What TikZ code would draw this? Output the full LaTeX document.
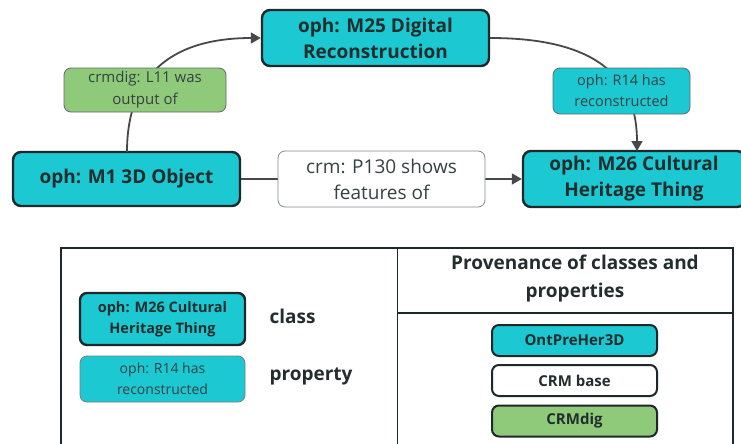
\documentclass[tikz,border=0pt]{standalone}
\usepackage{fontspec}
\setmainfont{Open Sans}
\usetikzlibrary{arrows.meta}
\definecolor{teal1}{RGB}{28,200,210}
\definecolor{green1}{RGB}{142,202,122}
\definecolor{edge1}{RGB}{30,40,42}
\definecolor{ink}{RGB}{35,45,45}
\definecolor{softink}{RGB}{55,65,65}
\definecolor{wire}{RGB}{70,72,74}
\tikzset{
  clsbox/.style={draw=edge1, line width=2.4pt, fill=teal1, rounded corners=8pt,
    align=center, font=\bfseries\fontsize{19}{26}\selectfont, text=ink, inner sep=0pt},
  propbox/.style={draw=edge1!70, line width=0.8pt, rounded corners=7pt,
    align=center, text=softink, inner sep=0pt},
  legbox/.style={draw=edge1, line width=2pt, rounded corners=7pt,
    align=center, text=ink, inner sep=0pt, minimum width=165pt},
  wireline/.style={draw=wire, line width=1.8pt},
  tip/.style={-{Triangle[length=10pt,width=11pt]}},
  legtext/.style={anchor=west, font=\bfseries\fontsize{19}{22}\selectfont, text=ink},
}
\begin{document}
\begin{tikzpicture}[x=1pt,y=-1pt]
\useasboundingbox (0,0) rectangle (741,444);
\begin{scope}
\clip (0,0) rectangle (741,444);

% main classes
\node[clsbox, minimum width=227pt, minimum height=56pt] (m25) at (375.5,38) {oph: M25 Digital\\Reconstruction};
\node[clsbox, minimum width=227pt, minimum height=54pt] (m1) at (126.5,179) {oph: M1 3D Object};
\node[clsbox, minimum width=222pt, minimum height=56pt] (m26) at (634,179) {oph: M26 Cultural\\Heritage Thing};

% connectors
\coordinate (m1top) at (127,152);
\coordinate (m26top) at (637,151);
\draw[wireline, tip] (m1top) .. controls (127,60) and (190,38) .. (m25.west);
\draw[wireline, tip] (m25.east) .. controls (600,38) and (637,80) .. (m26top);
\draw[wireline, tip] (m1.east) -- (m26.west);

% property labels
\node[propbox, fill=green1, minimum width=162pt, minimum height=44pt,
  font=\fontsize{15}{22}\selectfont] (l11) at (145,90) {crmdig: L11 was\\output of};
\node[propbox, fill=teal1, minimum width=137pt, minimum height=46pt,
  font=\fontsize{14.5}{21}\selectfont] (r14) at (621.5,91) {oph: R14 has\\reconstructed};
\node[propbox, fill=white, draw=edge1!55, minimum width=207pt, minimum height=56pt,
  font=\fontsize{19}{26}\selectfont] (p130) at (381.5,179) {crm: P130 shows\\features of};

% legend frame
\draw[draw=edge1, line width=1.8pt] (61,248) rectangle (733,460);
\draw[draw=edge1, line width=1.8pt] (397.5,248) -- (397.5,460);
\draw[draw=edge1, line width=1.8pt] (397.5,313) -- (733,313);

% legend: kinds of boxes
\node[legbox, fill=teal1, line width=2.4pt, minimum height=52pt,
  font=\bfseries\fontsize{14.5}{21}\selectfont] (lgcls) at (162.5,319) {oph: M26 Cultural\\Heritage Thing};
\node[legbox, fill=teal1, draw=edge1!60, line width=0.8pt, minimum height=46pt,
  font=\fontsize{14}{21}\selectfont, text=softink] (lgprop) at (162.5,379) {oph: R14 has\\reconstructed};
\node[legtext] (tcls) at (266,316) {class};
\node[legtext] (tprop) at (266,376) {property};

% legend: provenance
\node[align=center, text=ink, font=\bfseries\fontsize{19}{28}\selectfont] (prov) at (575,279)
  {Provenance of classes and\\properties};
\node[legbox, fill=teal1, minimum height=31pt,
  font=\bfseries\fontsize{15}{18}\selectfont] (oph) at (574.5,340.5) {OntPreHer3D};
\node[legbox, fill=white, minimum height=31pt,
  font=\bfseries\fontsize{15}{18}\selectfont] (crm) at (574.5,380.5) {CRM base};
\node[legbox, fill=green1, minimum height=31pt,
  font=\bfseries\fontsize{15}{18}\selectfont] (dig) at (574.5,421) {CRMdig};
\end{scope}
\end{tikzpicture}
\end{document}
